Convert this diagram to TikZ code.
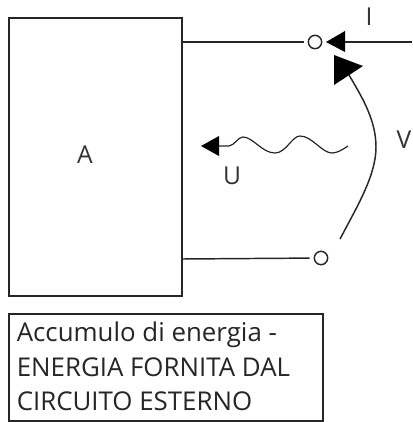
\documentclass[tikz,border=0pt]{standalone}
\usepackage{fontspec}
\setmainfont{Open Sans}
\begin{document}
\begin{tikzpicture}[x=0.75pt,y=-0.75pt,
  wire/.style={line width=1.1pt,draw=black!85},
  term/.style={circle,draw=black!85,line width=1.1pt,minimum size=10pt,inner sep=0pt,fill=white},
  head/.style={fill=black,draw=none},
  lab/.style={font=\fontsize{18.5pt}{20pt}\selectfont,text=black!80,inner sep=0pt},
  txt/.style={font=\fontsize{19.4pt}{22pt}\selectfont,text=black!85,inner sep=0pt,anchor=base west}]
\useasboundingbox (0,0) rectangle (412,422);
\fill[white] (0,0) rectangle (412,422);
\node[draw=black!85,line width=1.1pt,minimum width=129.75pt,minimum height=208.5pt,inner sep=0pt] (A) at (95.5,157) {};
\node[lab] (Alab) at (85,155) {A};
\node[term] (t1) at (315,42) {};
\node[term] (t2) at (321,258) {};
\coordinate (ta) at (182,42);
\coordinate (tb) at (182,259);
\coordinate (east) at (412,42);
\draw[wire,shorten >=3pt] (ta) -- (t1);
\draw[wire,shorten >=3pt] (tb) -- (t2);
\coordinate (ih) at (345,42);
\draw[wire] (east) -- (ih);
\fill[head] (326,42) -- (345,31) -- (345,52) -- cycle;
% voltage arc
\coordinate (vs) at (340,239);
\coordinate (ve) at (349,75);
\draw[line width=1.1pt,draw=black!85] (vs) .. controls (358,205) and (376,175) .. (376,147) .. controls (376,120) and (362,97) .. (ve);
\fill[head] (334,55) -- (363,66) -- (334,85) -- cycle;
% wavy
\coordinate (us) at (348,146);
\coordinate (ue) at (219,146);
\draw[line width=0.9pt,draw=black!85] (us) .. controls (342,150) and (337,153) .. (332,153)
  .. controls (322,153) and (312,136) .. (300,136)
  .. controls (292,136) and (286,153) .. (275,153)
  .. controls (262,153) and (253,137) .. (243,137)
  .. controls (238,137) and (235,145) .. (229,146) -- (ue);
\fill[head] (201,146) -- (219,136) -- (219,156) -- cycle;
\node[lab] (I) at (369,17) {I};
\node[lab] (V) at (404,140) {V};
\node[lab] (U) at (232,176) {U};
\node[draw=black!85,line width=1.1pt,minimum width=235.5pt,minimum height=80pt,inner sep=0pt] (box) at (166,367.5) {};
\node[txt] (l1) at (16.5,341) {Accumulo di energia -};
\node[txt] (l2) at (16.5,376) {ENERGIA FORNITA DAL};
\node[txt] (l3) at (16.5,410) {CIRCUITO ESTERNO};
\end{tikzpicture}
\end{document}
